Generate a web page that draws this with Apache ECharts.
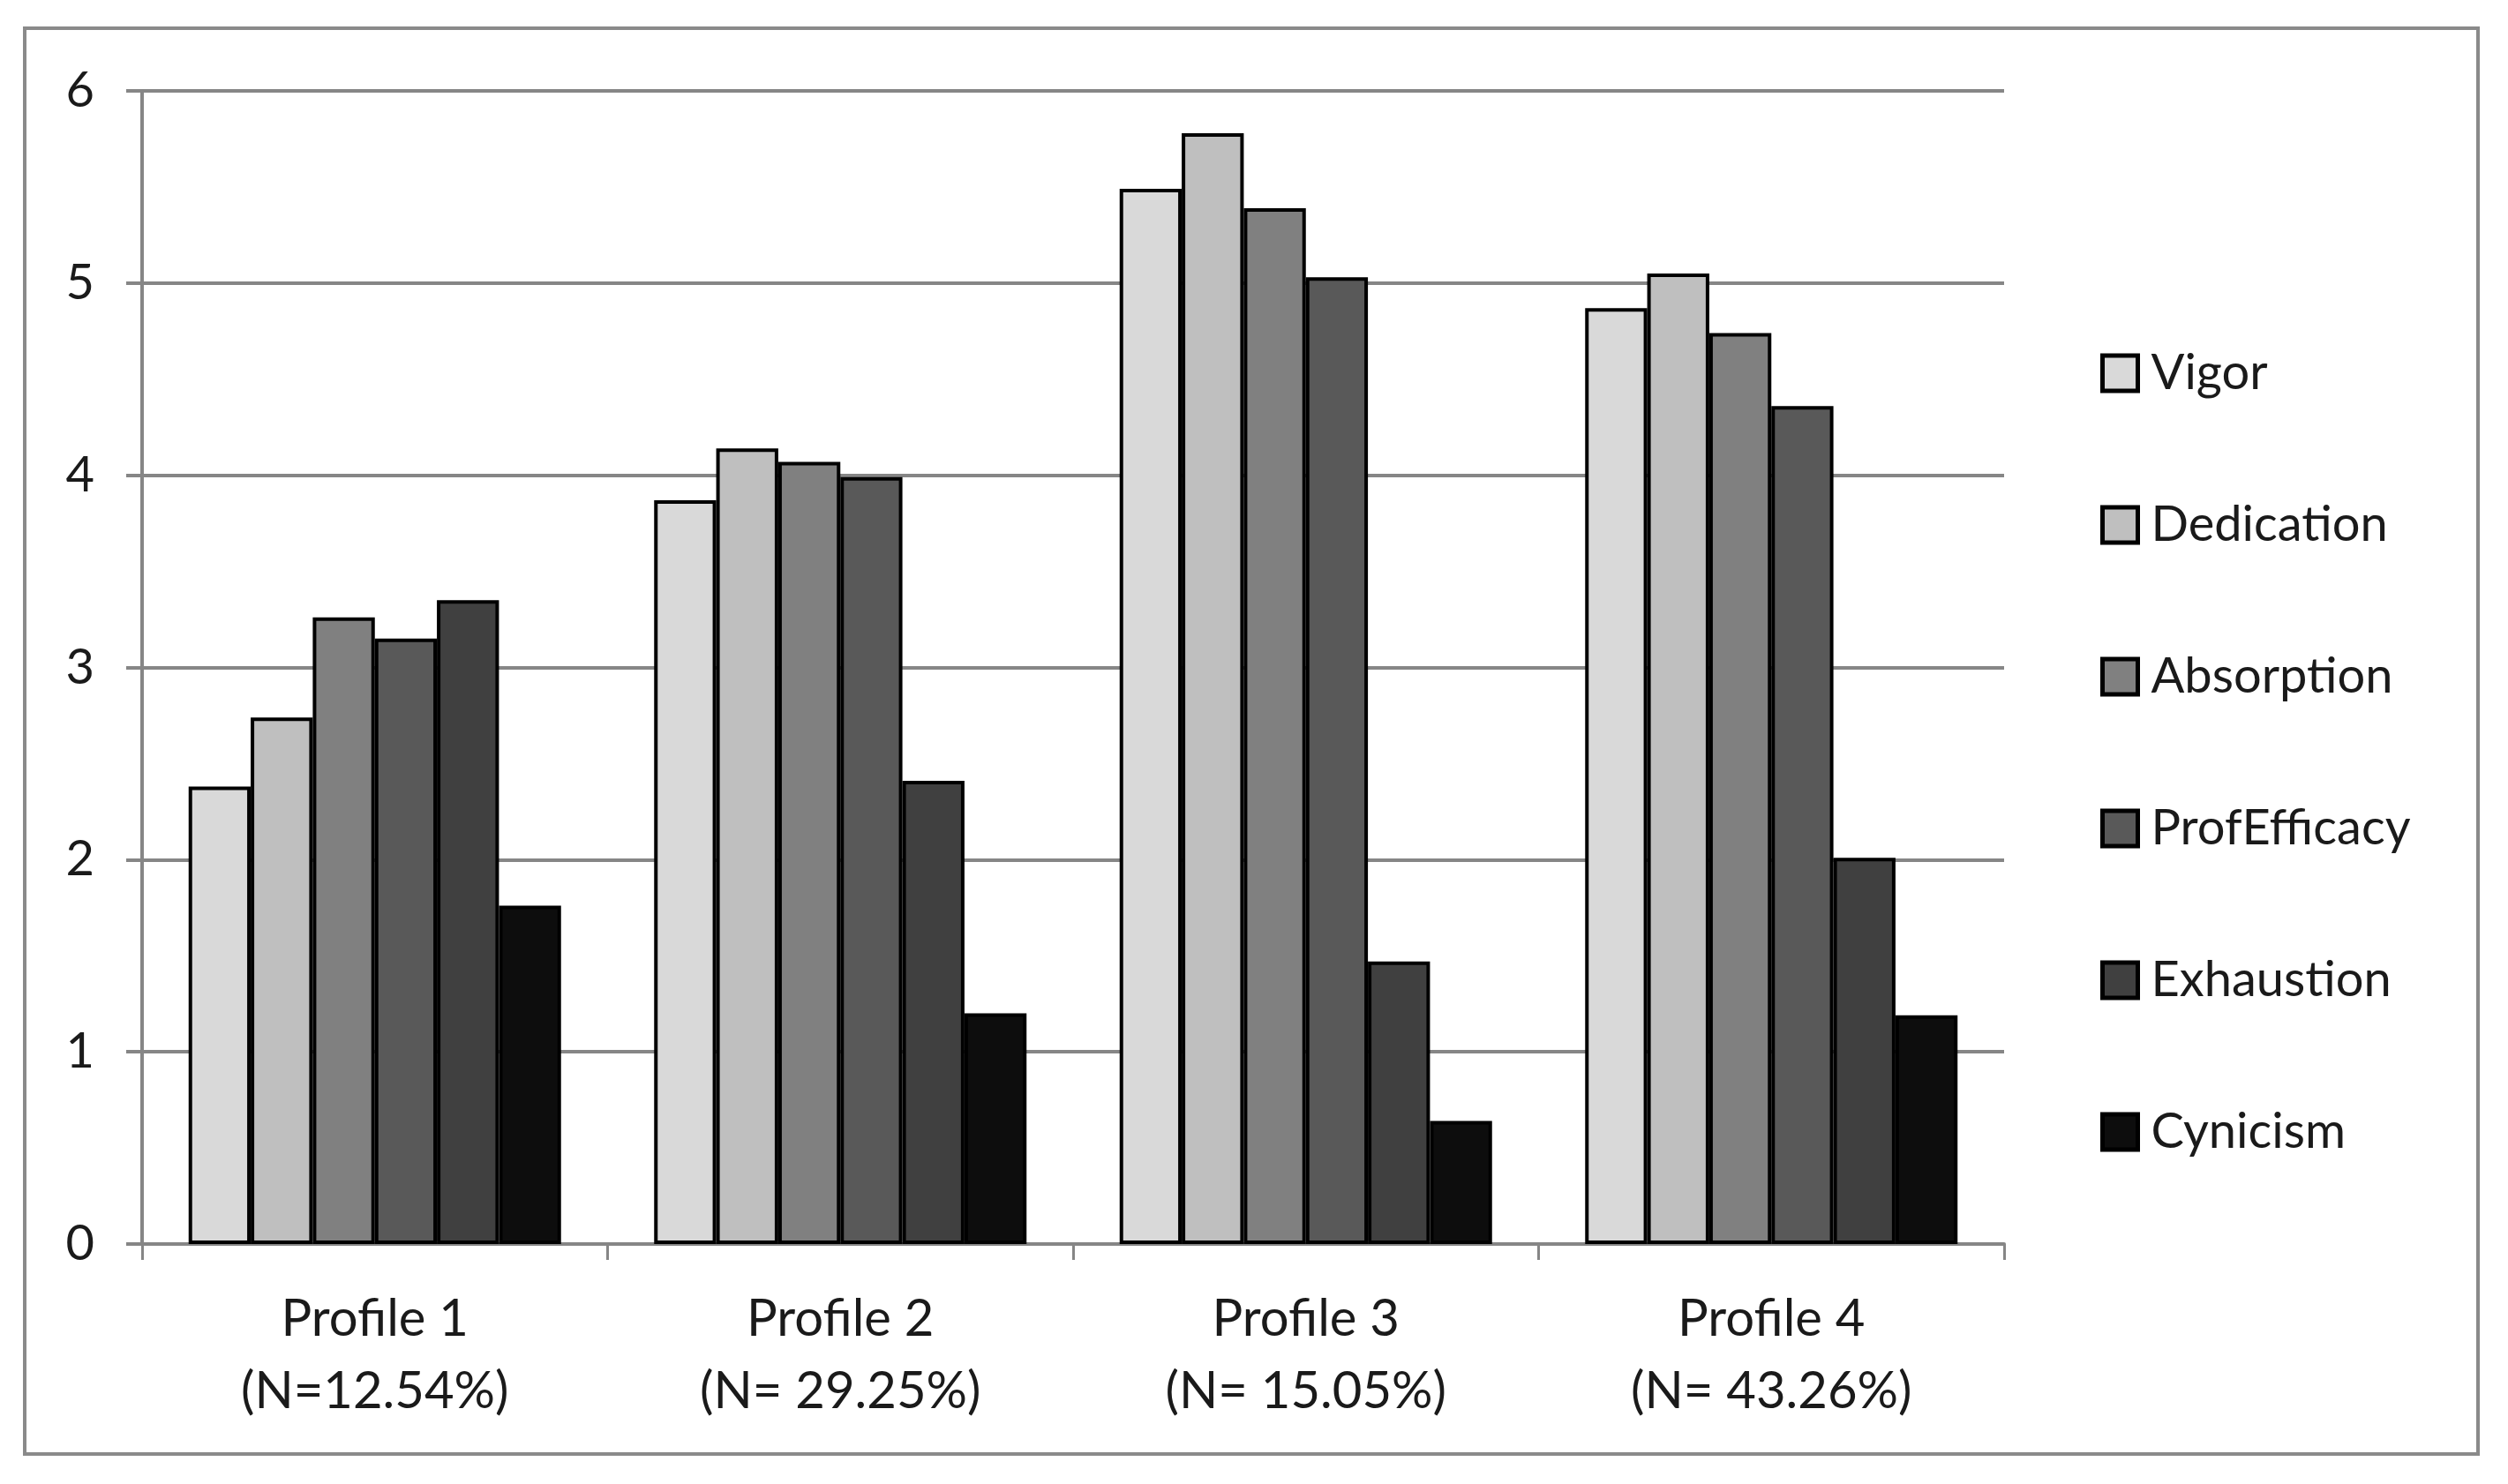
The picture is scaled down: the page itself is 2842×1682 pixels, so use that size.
<!DOCTYPE html>
<html>
<head>
<meta charset="utf-8">
<script src="https://cdn.jsdelivr.net/npm/echarts@6/dist/echarts.min.js"></script>
<style>
html,body{margin:0;padding:0;background:#fff;}
#frame{position:absolute;left:26px;top:30px;width:2784px;height:1620px;border:4px solid #8a8a8a;box-sizing:border-box;}
#chart{position:absolute;left:0;top:0;width:2842px;height:1682px;}
</style>
</head>
<body>
<div id="frame"></div>
<div id="chart"></div>
<script>
const categories = ["Profile 1\n(N=12.54%)", "Profile 2\n(N= 29.25%)", "Profile 3\n(N= 15.05%)", "Profile 4\n(N= 43.26%)"];
const seriesNames = ["Vigor", "Dedication", "Absorption", "ProfEfficacy", "Exhaustion", "Cynicism"];
const vigor        = [2.38, 3.87, 5.49, 4.87];
const dedication   = [2.74, 4.14, 5.78, 5.05];
const absorption   = [3.26, 4.07, 5.39, 4.74];
const profEfficacy = [3.15, 3.99, 5.03, 4.36];
const exhaustion   = [3.35, 2.41, 1.47, 2.01];
const cynicism     = [1.76, 1.20, 0.64, 1.19];
const yTicks = [0, 1, 2, 3, 4, 5, 6];
const colors = ["#d9d9d9", "#bfbfbf", "#808080", "#595959", "#404040", "#0d0d0d"];

const values = [vigor, dedication, absorption, profEfficacy, exhaustion, cynicism];
const font = "Lato, 'Open Sans', sans-serif";
const chart = echarts.init(document.getElementById('chart'), null, {renderer: 'canvas'});
chart.setOption({
  animation: false,
  backgroundColor: 'transparent',
  grid: {left: 161, right: 571, top: 103, bottom: 272, containLabel: false},
  legend: {
    orient: 'vertical',
    left: 2375,
    top: 390,
    itemWidth: 40,
    itemHeight: 40,
    itemGap: 116,
    icon: 'rect',
    data: seriesNames,
    itemStyle: {borderColor: '#000', borderWidth: 5},
    textStyle: {fontFamily: font, fontSize: 56, color: '#1a1a1a', padding: [0, 0, 0, 10]}
  },
  xAxis: {
    type: 'category',
    data: categories,
    axisLine: {show: true, lineStyle: {color: '#868686', width: 4}},
    axisTick: {show: true, length: 18, lineStyle: {color: '#868686', width: 3}},
    axisLabel: {fontFamily: font, fontSize: 58, color: '#1a1a1a', lineHeight: 82, margin: 44},
    splitLine: {show: false}
  },
  yAxis: {
    type: 'value',
    min: yTicks[0],
    max: yTicks[yTicks.length - 1],
    interval: 1,
    axisLine: {show: true, lineStyle: {color: '#868686', width: 4}},
    axisTick: {show: true, length: 18, lineStyle: {color: '#868686', width: 4}},
    axisLabel: {fontFamily: font, fontSize: 56, color: '#1a1a1a', margin: 54},
    splitLine: {show: true, lineStyle: {color: '#868686', width: 4}}
  },
  series: seriesNames.map((name, i) => ({
    name: name,
    type: 'bar',
    data: values[i],
    barGap: '0%',
    barCategoryGap: '20%',
    itemStyle: {color: colors[i], borderColor: '#000', borderWidth: 4}
  }))
});
</script>
</body>
</html>
